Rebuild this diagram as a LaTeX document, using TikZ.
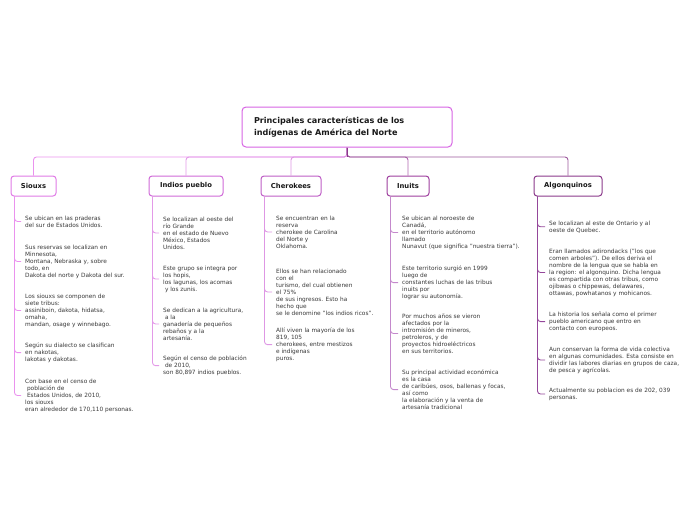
\documentclass[tikz,border=0pt]{standalone}
\usepackage{fontspec}
\setmainfont{DejaVu Sans}
\begin{document}
\begin{tikzpicture}[x=1pt,y=-1pt,
  titlebox/.style={draw=#1, line width=1pt, rounded corners=4pt, fill=white, minimum width=210pt, minimum height=40pt, text width=186pt, inner xsep=12pt, align=left, font=\fontsize{8.1}{12}\selectfont\bfseries, text=black!90},
  kid/.style={draw=#1, line width=1pt, rounded corners=3pt, fill=white, minimum height=20pt, inner sep=0pt, font=\fontsize{6.8}{8}\selectfont\bfseries, text=black!90},
  item/.style={anchor=north west, inner sep=0pt, align=left, font=\fontsize{5.82}{7}\selectfont, text=black!78},
  link/.style={draw=#1, line width=0.9pt, rounded corners=3pt},
  leaf/.style={draw=#1, line width=0.9pt, rounded corners=3pt},
]
\useasboundingbox (0,0) rectangle (696,520);
\definecolor{cA}{HTML}{E07AE6}
\definecolor{cB}{HTML}{D06AD8}
\definecolor{cC}{HTML}{BE5EC6}
\definecolor{cD}{HTML}{9E3F9E}
\definecolor{cE}{HTML}{8B3A8B}
\definecolor{lA}{HTML}{EA92EE}
\definecolor{lB}{HTML}{E39AE8}
\definecolor{lC}{HTML}{DE97E4}
\definecolor{lD}{HTML}{C489CC}
\definecolor{lE}{HTML}{94479A}
\definecolor{tT}{HTML}{D764E4}

\coordinate (hub) at (347,157);
\node[titlebox=tT] (title) at (347,127) {Principales características de los\\indígenas de América del Norte};
\node[kid=cA, minimum width=45pt] (sioux) at (33.5,186) {Siouxs};
\node[kid=cB, minimum width=74pt] (pueblo) at (186,186) {Indios pueblo};
\node[kid=cC, minimum width=60pt] (chero) at (291,186) {Cherokees};
\node[kid=cD, minimum width=42pt] (inuit) at (408,186) {Inuits};
\node[kid=cE, minimum width=68pt] (algon) at (568,186) {Algonquinos};

\draw[link=lA] (title.south) |- (hub) -| (sioux.north);
\draw[link=lB] (title.south) |- (hub) -| (pueblo.north);
\draw[link=lC] (title.south) |- (hub) -| (chero.north);
\draw[link=cD!80] (title.south) |- (hub) -| (inuit.north);
\draw[link=cE!85] (title.south) |- (hub) -| (algon.north);
\draw[draw=cE, line width=0.9pt] (title.south) -- (hub);

% Siouxs
\node[item] (s1) at (25,215.5) {Se ubican en las praderas\\del sur de Estados Unidos.};
\node[item] (s2) at (25,244.5) {Sus reservas se localizan en\\Minnesota,\\Montana, Nebraska y, sobre\\todo, en\\Dakota del norte y Dakota del sur.};
\node[item] (s3) at (25,293.5) {Los siouxs se componen de\\siete tribus:\\assiniboin, dakota, hidatsa,\\omaha,\\mandan, osage y winnebago.};
\node[item] (s4) at (25,342.5) {Según su dialecto se clasifican\\en nakotas,\\lakotas y dakotas.};
\node[item] (s5) at (25,378.5) {Con base en el censo de\\\ población de\\\ Estados Unidos, de 2010,\\los siouxs\\eran alrededor de 170,110 personas.};
\foreach \n in {s1,s2,s3,s4,s5}
  \draw[leaf=lA] ([xshift=4pt]sioux.south west) |- ([xshift=-4pt]\n.west);

% Indios pueblo
\node[item] (p1) at (163,216.5) {Se localizan al oeste del\\río Grande\\en el estado de Nuevo\\México, Estados\\Unidos.};
\node[item] (p2) at (163,265.5) {Este grupo se integra por\\los hopis,\\los lagunas, los acomas\\\ y los zunis.};
\node[item] (p3) at (163,307.5) {Se dedican a la agricultura,\\\ a la\\ganadería de pequeños\\rebaños y a la\\artesanía.};
\node[item] (p4) at (163,355.5) {Según el censo de población\\\ de 2010,\\son 80,897 indios pueblos.};
\foreach \n in {p1,p2,p3,p4}
  \draw[leaf=lB] ([xshift=4pt]pueblo.south west) |- ([xshift=-4pt]\n.west);

% Cherokees
\node[item] (c1) at (276,215.5) {Se encuentran en la\\reserva\\cherokee de Carolina\\del Norte y\\Oklahoma.};
\node[item] (c2) at (276,268.5) {Ellos se han relacionado\\con el\\turismo, del cual obtienen\\el 75\%\\de sus ingresos. Esto ha\\hecho que\\se le denomine "los indios ricos".};
\node[item] (c3) at (276,327.5) {Allí viven la mayoría de los\\819, 105\\cherokees, entre mestizos\\e indígenas\\puros.};
\foreach \n in {c1,c2,c3}
  \draw[leaf=lC] ([xshift=4pt]chero.south west) |- ([xshift=-4pt]\n.west);

% Inuits
\node[item] (i1) at (402,215.5) {Se ubican al noroeste de\\Canadá,\\en el territorio autónomo\\llamado\\Nunavut (que significa "nuestra tierra").};
\node[item] (i2) at (402,265.5) {Este territorio surgió en 1999\\luego de\\constantes luchas de las tribus\\inuits por\\lograr su autonomía.};
\node[item] (i3) at (402,313.5) {Por muchos años se vieron\\afectados por la\\intromisión de mineros,\\petroleros, y de\\proyectos hidroeléctricos\\en sus territorios.};
\node[item] (i4) at (402,369.5) {Su principal actividad económica\\es la casa\\de caribúes, osos, ballenas y focas,\\así como\\la elaboración y la venta de\\artesanía tradicional};
\foreach \n in {i1,i2,i3,i4}
  \draw[leaf=lD] ([xshift=4pt]inuit.south west) |- ([xshift=-4pt]\n.west);

% Algonquinos
\node[item] (a1) at (549,220.5) {Se localizan al este de Ontario y al\\oeste de Quebec.};
\node[item] (a2) at (549,248.5) {Eran llamados adirondacks ("los que\\comen arboles"). De ellos deriva el\\nombre de la lengua que se habla en\\la region: el algonquino. Dicha lengua\\es compartida con otras tribus, como\\ojibwas o chippewas, delawares,\\ottawas, powhatanos y mohicanos.};
\node[item] (a3) at (549,311.5) {La historia los señala como el primer\\pueblo americano que entro en\\contacto con europeos.};
\node[item] (a4) at (549,346.5) {Aun conservan la forma de vida colectiva\\en algunas comunidades. Esta consiste en\\dividir las labores diarias en grupos de caza,\\de pesca y agrícolas.};
\node[item] (a5) at (549,387.5) {Actualmente su poblacion es de 202, 039\\personas.};
\foreach \n in {a1,a2,a3,a4,a5}
  \draw[leaf=lE] ([xshift=4pt]algon.south west) |- ([xshift=-4pt]\n.west);
\end{tikzpicture}
\end{document}
